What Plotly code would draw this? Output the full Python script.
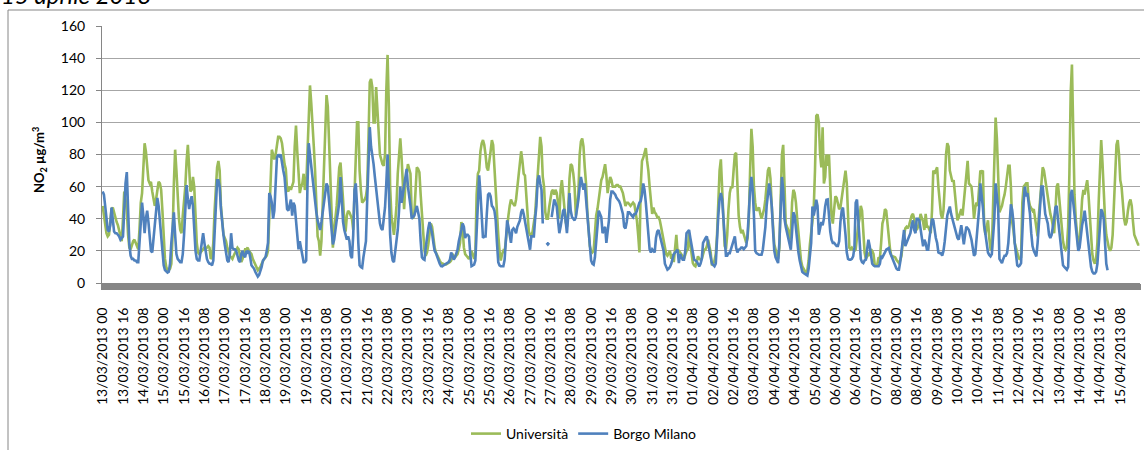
import plotly.graph_objects as go

# ---- tick labels (every 16 hours) ----
tick_labels = [
    "13/03/2013 00", "13/03/2013 16", "14/03/2013 08", "15/03/2013 00", "15/03/2013 16",
    "16/03/2013 08", "17/03/2013 00", "17/03/2013 16", "18/03/2013 08", "19/03/2013 00",
    "19/03/2013 16", "20/03/2013 08", "21/03/2013 00", "21/03/2013 16", "22/03/2013 08",
    "23/03/2013 00", "23/03/2013 16", "24/03/2013 08", "25/03/2013 00", "25/03/2013 16",
    "26/03/2013 08", "27/03/2013 00", "27/03/2013 16", "28/03/2013 08", "29/03/2013 00",
    "29/03/2013 16", "30/03/2013 08", "31/03/2013 00", "31/03/2013 16", "01/04/2013 08",
    "02/04/2013 00", "02/04/2013 16", "03/04/2013 08", "04/04/2013 00", "04/04/2013 16",
    "05/04/2013 08", "06/04/2013 00", "06/04/2013 16", "07/04/2013 08", "08/04/2013 00",
    "08/04/2013 16", "09/04/2013 08", "10/04/2013 00", "10/04/2013 16", "11/04/2013 08",
    "12/04/2013 00", "12/04/2013 16", "13/04/2013 08", "14/04/2013 00", "14/04/2013 16",
    "15/04/2013 08",
]
label_step_hours = 16

# ---- hourly NO2 (ug/m3), Università ----
universita = [
    48, 42, 35, 31, 29, 30, 38, 46, 47, 44,
    40, 38, 36, 32, 28, 26, 40, 57, 52, 45,
    30, 22, 21, 24, 26, 27, 25, 22, 21,
    34, 50, 56, 75, 87, 82, 70, 64, 62, 63,
    57, 52, 48, 52, 58, 63, 62, 58, 45, 28,
    15, 10, 8, 8, 9, 12, 30, 62, 83, 70,
    50, 40, 33, 31, 42, 50, 60, 76, 86, 72,
    57, 58, 66, 60, 44, 25, 19, 18, 19, 20,
    21, 22, 21, 22, 23, 22, 15, 16, 25,
    45, 62, 72,
    76, 70, 48, 38, 30, 28, 26,
    22, 19, 17, 16, 15, 17, 19, 21, 22, 21,
    17, 13, 15, 19, 21, 21, 22, 20, 19, 18,
    15, 13, 11, 9, 8, 9, 10, 12, 14, 15,
    16, 17, 20, 45, 72, 83, 80, 77, 80, 85,
    91, 91, 90, 87, 78, 74, 71, 58, 57,
    60, 58, 60, 63, 85, 98, 82, 70, 56, 60,
    62, 68, 58, 60, 80, 110, 123, 112, 101, 85,
    70, 45, 29, 26, 17, 26, 50, 75, 100, 117,
    110, 88, 65, 45, 22, 33, 40, 48, 60, 72, 75,
    66, 52, 38, 32, 42, 45, 44, 42, 40,
    33, 56, 76, 100, 100, 70, 58, 50, 51,
    52, 54, 60, 90, 125, 127, 122, 100, 100, 122,
    108, 92, 80, 77, 74, 73, 80, 120, 142, 110,
    60, 42, 35, 30, 38, 48, 68, 82, 90, 78,
    60, 46, 62, 70, 74, 71, 68, 42, 40, 43,
    62, 72, 71, 69, 55, 42, 31, 20, 17,
    19, 24, 31, 37, 35, 28, 22, 19, 17, 15,
    14, 12.5, 12, 11.5, 11.5, 11.5, 12, 12, 13, 14,
    18, 17, 16, 17, 18, 21, 25, 38,
    34, 22, 18, 17, 16, 15, 17, 20, 18, 15,
    18, 55, 68, 70, 82, 87, 89, 86, 80, 72,
    70, 75, 82, 89, 86, 72, 55, 39, 30,
    20, 14, 18, 20, 19, 28, 35, 42, 48, 52,
    50, 49, 48, 52, 60, 67, 75, 82, 76, 68,
    67, 55, 42, 32, 30, 29, 32, 38, 43, 55,
    68, 85, 91, 85, 66, 60, 44, 40, 40, 47,
    54, 57, 58, 55, 58, 56, 50, 40, 58, 64,
    56, 45, 38, 35, 45, 65, 74, 73, 68,
    60, 42, 48, 56, 80, 88, 90, 85,
    72, 62, 45, 30, 23, 20, 19, 20, 30, 42,
    46, 54, 58, 64, 66, 70, 74, 67, 56, 62,
    66, 64, 60, 60, 60, 61, 61, 60, 60, 58,
    56, 52, 48, 50, 50, 49, 48, 49, 50, 49,
    45, 39, 30, 19, 60, 76, 78, 82, 84,
    76, 70, 60, 50, 43, 47, 44, 43, 41, 41,
    39, 35, 31, 27, 22, 18, 17, 19, 20, 15,
    18, 13, 22, 30, 19, 20, 19, 18, 16.6, 15,
    18, 20, 21, 31, 24, 18.6, 12.4, 11, 10.4, 13,
    16.6, 15, 14.5, 15, 18, 20.7, 21, 22.8,
    27, 22, 19, 11, 12, 14, 18, 30, 55,
    70, 77, 60, 35, 23, 21, 30, 46, 56, 60,
    59, 70, 80, 81, 62, 42, 35, 31, 33, 30,
    27, 25, 28, 40, 70, 96, 85, 60, 50, 45,
    46, 47, 43, 40, 43, 46, 52, 62, 70, 72,
    65, 48, 35, 24, 21, 18.6, 15, 22, 55, 80,
    86, 56, 37, 35, 33, 27, 31, 50, 58,
    56, 50, 40, 30, 20.7, 14, 10.4, 9, 7.5, 6.2,
    8, 14, 24, 32, 40, 46, 70, 104, 105, 100,
    80, 72, 97, 62, 66, 80, 73,
    80, 60, 42, 37, 44, 54, 53, 50, 46, 47,
    52, 58, 65, 70, 62, 35, 22, 21, 22, 21,
    20, 21, 29, 36, 40, 48, 45, 30, 19,
    15, 17, 18, 17, 21, 20, 18, 11, 11, 11.4,
    16, 15, 25, 37, 40, 46, 45, 35, 29, 21,
    17, 16.6, 16.6, 16, 14.5, 13, 12.4, 14, 17, 25,
    31, 34, 35, 34, 36, 39, 42, 43, 40, 35,
    33, 35, 38, 43, 40, 38, 33, 43, 35,
    35, 33, 31, 45, 70, 68, 70, 72, 60, 48,
    43, 40, 45, 60, 80, 87, 85, 70,
    66, 63, 64, 55, 45, 39, 41, 43, 46, 42,
    50, 60, 70, 76, 62, 61, 60, 52, 40, 47,
    50, 48, 60, 70, 69, 70, 35, 30, 35, 39,
    28, 21, 21, 50, 85, 103, 90, 62, 44,
    46, 48, 52, 55, 60, 67, 73, 73, 60, 38,
    33, 25, 22, 18, 16, 14.5, 16, 50, 60, 61,
    62, 62, 52, 48, 46, 45, 46, 39, 32, 29,
    42, 52, 60, 72, 70, 64, 58, 52, 48, 43,
    40, 36, 31, 45, 60, 62, 52, 43, 34, 26,
    22, 20.7, 22, 35, 68, 118, 136,
    95, 55, 40, 28, 22, 25, 40, 52, 58, 55,
    60, 64, 55, 40, 28, 18, 14, 12, 15, 25,
    50, 75, 89, 75, 55, 40, 30, 25, 22, 20,
    22, 30, 50, 72, 86, 89, 80, 64, 60, 50,
    40, 36, 38, 45, 50, 52, 48, 38, 30, 28,
    26, 24, 24,
]

# ---- hourly NO2 (ug/m3), Borgo Milano (None = missing) ----
borgo_milano = [
    57, 55, 48, 38, 33, 32, 36, 47, 40, 32,
    31, 31, 30, 29, 27, 28, 29, 45, 62, 69,
    45, 24, 17, 15, 15, 14, 14, 13, 13,
    25, 40, 50, 42, 31, 40, 45, 38, 28, 20,
    19, 28, 37, 45, 53, 48, 38, 26, 18, 11,
    8, 7, 6.5, 7, 12, 25, 38, 44, 30, 18,
    15, 14, 13, 13, 18, 30, 50, 61, 52, 46,
    51, 54, 48, 35, 20, 15, 14, 14, 19, 24,
    31, 25, 19, 15, 13, 12, 12, 11, 14,
    30, 50, 64,
    64, 60, 46, 36, 30, 24, 17,
    14, 13, 18, 31, 22, 21, 21, 20, 16, 14,
    13, 18, 20, 17, 16, 20, 19, 20, 16, 11,
    10, 9, 7, 5, 4, 5, 7, 10, 14, 15,
    16, 20, 25, 56, 54, 50, 40, 45, 60, 78,
    80, 79, 80, 73, 70, 66, 58, 46, 45,
    48, 52, 42, 50, 48, 38, 30, 21, 26, 22,
    18, 13, 13, 14, 60, 87, 80, 72, 64, 56,
    50, 44, 39, 35, 33, 38, 44, 47, 55, 62,
    60, 50, 42, 30, 24, 27, 35, 39, 44, 50, 66,
    52, 38, 33, 30, 27, 29, 26, 17, 15.5,
    30, 58, 62, 48, 25, 11, 10, 9.5, 16,
    21, 26, 52, 75, 97, 85, 80, 74, 66, 58,
    52, 43, 37, 34, 33, 40, 47, 62, 80, 58,
    30, 19, 14, 13, 20, 28, 33, 45, 60, 50,
    55, 62, 68, 71, 60, 55, 48, 40, 41, 42,
    45, 48, 44, 40, 26, 16, 15, 14.5, 22,
    29, 34, 38, 35, 31, 25, 20, 18.6, 16, 13.5,
    12, 10.5, 10.4, 11, 11.4, 12, 12.4, 13, 14.5, 19,
    17, 14.5, 16, 18.6, 20.7, 26, 29, 33,
    37, 35, 28, 30, 30, 29, 18, 10.5, 11, 11.4,
    14, 35, 52, 67, 56, 39, 28, 29, 29, 43,
    55, 56, 54, 48, 47, 45, 39, 25, 13,
    11, 10.4, 10.4, 10.4, 14.5, 25, 39, 35, 30, 25,
    33, 34, 33, 31, 35, 37, 39, 44, 46, 43,
    39, 35, 31, 27, 20.7, 29, 29, 29, 40, 48,
    64, 67, 62, 58, 37, None, None, 25, 24, 25,
    None, 41, 46, 52, 50, 47.6, 39, 31, 35, 39,
    45, 46, 36, 31, 42, 56, 45, 41, 40,
    39, 41, 46, 52, 60, 66, 62, 58,
    62, 52, 47, 36, 24, 14, 12, 11.4, 16, 28,
    39, 45, 43, 41, 31, 33, 35, 25, 31, 39,
    52, 57, 57, 56, 55, 53, 52, 51, 49, 45,
    43, 35, 34, 38, 44, 44, 43, 42, 41, 43,
    43, 45, 48, 50, 51, 55, 62, 58, 50,
    38, 26, 21, 19, 21, 20, 19, 28, 32, 33,
    30, 27, 23, 20, 12, 10, 8.3, 9, 10, 12,
    15, 18, 19, 20, 20.7, 12.4, 18, 16, 14.5, 14.5,
    20, 31, 32, 33, 28, 23, 18, 14.5, 14, 13.5,
    12, 10.4, 12, 15, 25, 27, 28, 29,
    24, 18.6, 16, 12, 11, 10.4, 12, 30, 42,
    52, 56, 52, 40, 22, 17, 17, 18.6, 18.6, 21,
    24, 27, 29, 22, 19, 20.7, 21, 22, 22, 21,
    22, 23, 30, 47, 58, 66, 58, 42, 20, 18.6,
    18, 17.6, 17.6, 17.6, 20.7, 27, 35, 48, 56, 62,
    56, 48, 33, 20, 16, 14.5, 12.4, 25, 48, 66,
    58, 40, 35, 31, 28, 24, 20.7, 32, 44,
    42, 33, 26, 19, 14, 10.4, 7, 6.2, 5.5, 5.2,
    4.6, 9, 16, 25, 47.6, 42, 46, 51.8, 48, 30,
    34, 38, 36, 40, 47.6, 51.8, 52,
    40, 32, 27, 25, 25, 24, 23, 23, 26, 38,
    45, 47, 40, 30, 19, 15, 14.5, 14.5, 15, 16.6,
    22, 50, 52, 38, 22, 15, 13, 12.4, 14,
    14.5, 21, 27, 23, 18, 12, 11, 10.4, 10.4, 10.4,
    10.4, 12, 17, 16, 18, 19, 20.7, 21, 21.7, 19,
    17, 14.5, 12, 10.4, 9, 8.3, 8.3, 13, 20.7, 28,
    33, 23, 25, 26, 28, 31, 36, 39, 33, 31,
    40, 40, 39, 33, 27, 22.8, 27, 25, 20.7,
    20.7, 28, 35, 40, 39, 33, 28, 25, 19, 18.6,
    18.6, 17, 20, 26, 35, 42, 45, 47.6,
    43, 40, 37, 33, 31, 28, 27, 33, 36, 30,
    24, 30, 35, 34, 33, 30, 27, 22, 17, 18,
    26, 35, 46, 62, 55, 47, 36, 29, 23, 19,
    17.5, 16.6, 18, 30, 40, 62, 54, 46, 15,
    13.5, 12.4, 15, 17, 17, 18.6, 25, 40, 49, 45.5,
    38, 25, 16, 11, 10.4, 11, 12.4, 35, 50, 60,
    54, 56, 50, 43, 31, 23, 20, 18.6, 16.6, 25,
    38, 45, 60, 60, 50, 43, 40, 37, 30, 28,
    30, 34, 40, 47, 48, 40, 33, 25, 15, 11,
    10, 9, 8.3, 10, 28, 55, 58,
    50, 40, 35, 25, 20, 22, 30, 36, 40, 45,
    38, 30, 22, 16, 10, 7, 6, 6, 7, 12,
    25, 40, 46, 44, 40, 25, 12, 8,
    None, None, None, None, None, None, None, None, None, None,
    None, None, None, None, None, None, None, None, None, None,
    None, None, None, None, None,
]

series_names = ["Università", "Borgo Milano"]
series_colors = ["#9BBB59", "#4F81BD"]

# ---- geometry ----
W, H = 1144, 450
L, R, T, B = 102, 4, 26, 167
PW = W - L - R
PH = H - T - B


def px_x(px):
    return (px - L) / PW


def px_y(py):
    return (H - B - py) / PH


n = max(len(universita), len(borgo_milano))
hours_u = list(range(len(universita)))
hours_b = list(range(len(borgo_milano)))

fig = go.Figure()
fig.add_trace(go.Scatter(x=hours_u, y=universita, mode="lines", name=series_names[0],
                         line=dict(color=series_colors[0], width=2.6), connectgaps=False))
fig.add_trace(go.Scatter(x=hours_b, y=borgo_milano, mode="lines", name=series_names[1],
                         line=dict(color=series_colors[1], width=2.6), connectgaps=False))

FONT = "Lato, 'Open Sans', 'DejaVu Sans', sans-serif"
GRID = "#a6a6a6"
AXIS = "#868686"

fig.update_layout(
    width=W, height=H,
    margin=dict(l=L, r=R, t=T, b=B, pad=0, autoexpand=False),
    paper_bgcolor="white", plot_bgcolor="white",
    font=dict(family=FONT, size=14, color="#000000"),
    showlegend=True,
    legend=dict(orientation="h", x=px_x(584), xanchor="center", y=px_y(434), yanchor="middle",
                font=dict(size=14, color="#000000"), bgcolor="rgba(0,0,0,0)",
                itemwidth=30, tracegroupgap=0),
    xaxis=dict(
        range=[-0.5, n - 0.5],
        tickmode="array",
        tickvals=[i * label_step_hours for i in range(len(tick_labels))],
        ticktext=tick_labels,
        tickangle=-90,
        ticks="",
        showgrid=False, zeroline=False,
        showline=True, linecolor=AXIS, linewidth=1,
        tickfont=dict(size=14, color="#000000"),
        ticklabelstandoff=18,
        minor=dict(ticks="outside", dtick=1, tick0=-0.5, ticklen=6, tickwidth=2,
                   tickcolor=AXIS, showgrid=False),
    ),
    yaxis=dict(
        range=[0, 160], dtick=20, tick0=0,
        showgrid=True, gridcolor=GRID, gridwidth=1,
        zeroline=False,
        showline=True, linecolor=AXIS, linewidth=1,
        ticks="outside", ticklen=5, tickcolor=AXIS,
        tickfont=dict(size=14, color="#000000"),
        ticklabelstandoff=8,
    ),
    annotations=[
        dict(text="<b>NO<sub>2</sub> µg/m<sup>3</sup></b>", textangle=-90,
             x=px_x(40), y=px_y(160), xref="paper", yref="paper",
             xanchor="center", yanchor="middle", showarrow=False,
             font=dict(size=13, color="#000000")),
        dict(text="<i>15 aprile 2013</i>",
             x=px_x(-1), y=px_y(11), xref="paper", yref="paper",
             xanchor="left", yanchor="bottom", showarrow=False,
             font=dict(size=24, color="#000000")),
    ],
    shapes=[
        dict(type="rect", xref="paper", yref="paper",
             x0=px_x(8), y0=px_y(10), x1=px_x(1170), y1=px_y(480),
             line=dict(color=AXIS, width=1), fillcolor="rgba(0,0,0,0)", layer="below"),
    ],
)

fig.write_html("out.html", config={"displayModeBar": False},
               post_script="document.body.style.margin='0';")
